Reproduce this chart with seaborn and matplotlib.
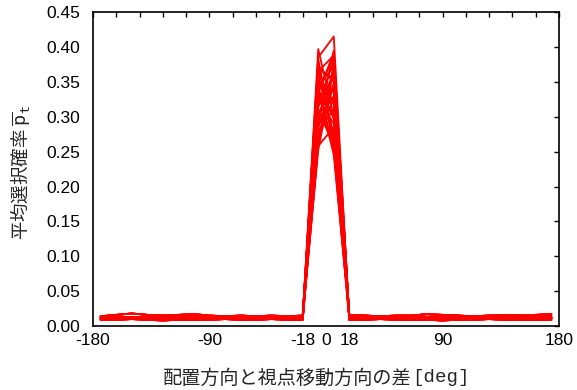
import matplotlib
matplotlib.use("Agg")
import matplotlib.pyplot as plt
import seaborn as sns
import pandas as pd

# direction difference [deg], bins of 12 deg
angles = [-174, -162, -150, -138, -126, -114, -102, -90, -78, -66, -54, -42, -30, -18,
          -6, 6,
          18, 30, 42, 54, 66, 78, 90, 102, 114, 126, 138, 150, 162, 174]

# selection probability at -6 and +6 deg for each run
peak_left = [0.397, 0.385, 0.378, 0.372, 0.365, 0.358, 0.350, 0.344, 0.338, 0.331, 0.325, 0.318,
             0.310, 0.302, 0.295, 0.288, 0.280, 0.272, 0.265, 0.258, 0.252, 0.345, 0.362, 0.305,
             0.382, 0.368, 0.355, 0.340, 0.328, 0.314, 0.298, 0.284, 0.270, 0.262, 0.376, 0.334]
peak_right = [0.300, 0.415, 0.262, 0.350, 0.388, 0.275, 0.322, 0.372, 0.245, 0.338, 0.290, 0.380,
              0.258, 0.360, 0.330, 0.395, 0.310, 0.345, 0.375, 0.285, 0.368, 0.252, 0.318, 0.340,
              0.268, 0.355, 0.296, 0.384, 0.305, 0.362, 0.278, 0.348, 0.326, 0.370, 0.255, 0.392]

# low-probability floor, -174..-18 and 18..174
floor_left = [
    [0.012, 0.013, 0.013, 0.012, 0.012, 0.013, 0.012, 0.012, 0.011, 0.012, 0.012, 0.011, 0.012, 0.012],
    [0.010, 0.011, 0.010, 0.011, 0.010, 0.010, 0.011, 0.010, 0.010, 0.011, 0.010, 0.010, 0.011, 0.010],
    [0.014, 0.016, 0.018, 0.016, 0.015, 0.016, 0.017, 0.015, 0.014, 0.015, 0.014, 0.015, 0.014, 0.015],
    [0.009, 0.009, 0.010, 0.009, 0.008, 0.009, 0.009, 0.009, 0.010, 0.009, 0.009, 0.010, 0.009, 0.009],
    [0.013, 0.014, 0.012, 0.013, 0.014, 0.013, 0.014, 0.013, 0.013, 0.012, 0.013, 0.013, 0.012, 0.013],
    [0.011, 0.012, 0.011, 0.012, 0.011, 0.012, 0.011, 0.012, 0.012, 0.011, 0.012, 0.012, 0.011, 0.011],
]
floor_right = [
    [0.013, 0.012, 0.012, 0.013, 0.012, 0.012, 0.013, 0.012, 0.012, 0.013, 0.012, 0.012, 0.013, 0.012],
    [0.011, 0.010, 0.011, 0.010, 0.010, 0.011, 0.010, 0.011, 0.010, 0.010, 0.011, 0.010, 0.010, 0.011],
    [0.016, 0.015, 0.014, 0.015, 0.015, 0.017, 0.016, 0.015, 0.014, 0.015, 0.016, 0.015, 0.016, 0.017],
    [0.009, 0.009, 0.010, 0.009, 0.009, 0.009, 0.008, 0.009, 0.009, 0.010, 0.009, 0.009, 0.009, 0.009],
    [0.014, 0.013, 0.013, 0.014, 0.013, 0.013, 0.014, 0.014, 0.013, 0.013, 0.014, 0.013, 0.013, 0.014],
    [0.012, 0.011, 0.012, 0.011, 0.012, 0.012, 0.011, 0.012, 0.012, 0.011, 0.012, 0.011, 0.012, 0.012],
]

xtick_labels = {-180: "-180", -90: "-90", -18: "-18", 0: "0", 18: "18", 90: "90", 180: "180"}

rows = []
for run, (pl, pr) in enumerate(zip(peak_left, peak_right)):
    fl = floor_left[run % len(floor_left)]
    fr = floor_right[run % len(floor_right)]
    values = fl + [pl, pr] + fr
    for a, v in zip(angles, values):
        rows.append({"run": run, "angle": a, "prob": v})
df = pd.DataFrame(rows)

sns.set_style("white")
plt.rcParams["font.family"] = ["Liberation Sans", "Noto Sans CJK JP", "DejaVu Sans"]

fig, ax = plt.subplots(figsize=(5.77, 3.90), dpi=100)
fig.subplots_adjust(left=0.161, right=0.969, top=0.969, bottom=0.164)

sns.lineplot(data=df, x="angle", y="prob", units="run", estimator=None,
             color="#ff0000", linewidth=1.3, legend=False, ax=ax)

ax.set_xlim(-180, 180)
ax.set_ylim(0, 0.45)
ticks = list(range(-180, 181, 18))
ax.set_xticks(ticks)
ax.set_xticklabels([xtick_labels.get(t, "") for t in ticks])
ax.set_yticks([i * 0.05 for i in range(10)])
ax.set_yticklabels([f"{i * 0.05:.2f}" for i in range(10)])
ax.tick_params(direction="in", length=3.5, width=1, top=True, right=True,
               labelsize=12.5, color="black", labelcolor="black")
ax.tick_params(axis="y", pad=9)
ax.tick_params(axis="x", pad=5)
for s in ax.spines.values():
    s.set_color("black")
    s.set_linewidth(1.2)

ax.set_xlabel("")
# x label: Japanese part + monospace unit
fig.text(412 / 577, 1 - 378 / 390, "配置方向と視点移動方向の差", ha="right", va="center",
         fontsize=13.8, family=["Noto Sans CJK JP"])
fig.text(412 / 577, 1 - 378 / 390, "[deg]", ha="left", va="center",
         fontsize=13.8, family=["Liberation Mono"])

ax.set_ylabel("平均選択確率 $\\overline{\\mathtt{p}}_{\\mathtt{t}}$", fontsize=13.3,
              family=["Noto Sans CJK JP", "DejaVu Sans"])
ax.yaxis.set_label_coords(-0.128, 0.49)

plt.savefig("out.png", dpi=100)
plt.close()
